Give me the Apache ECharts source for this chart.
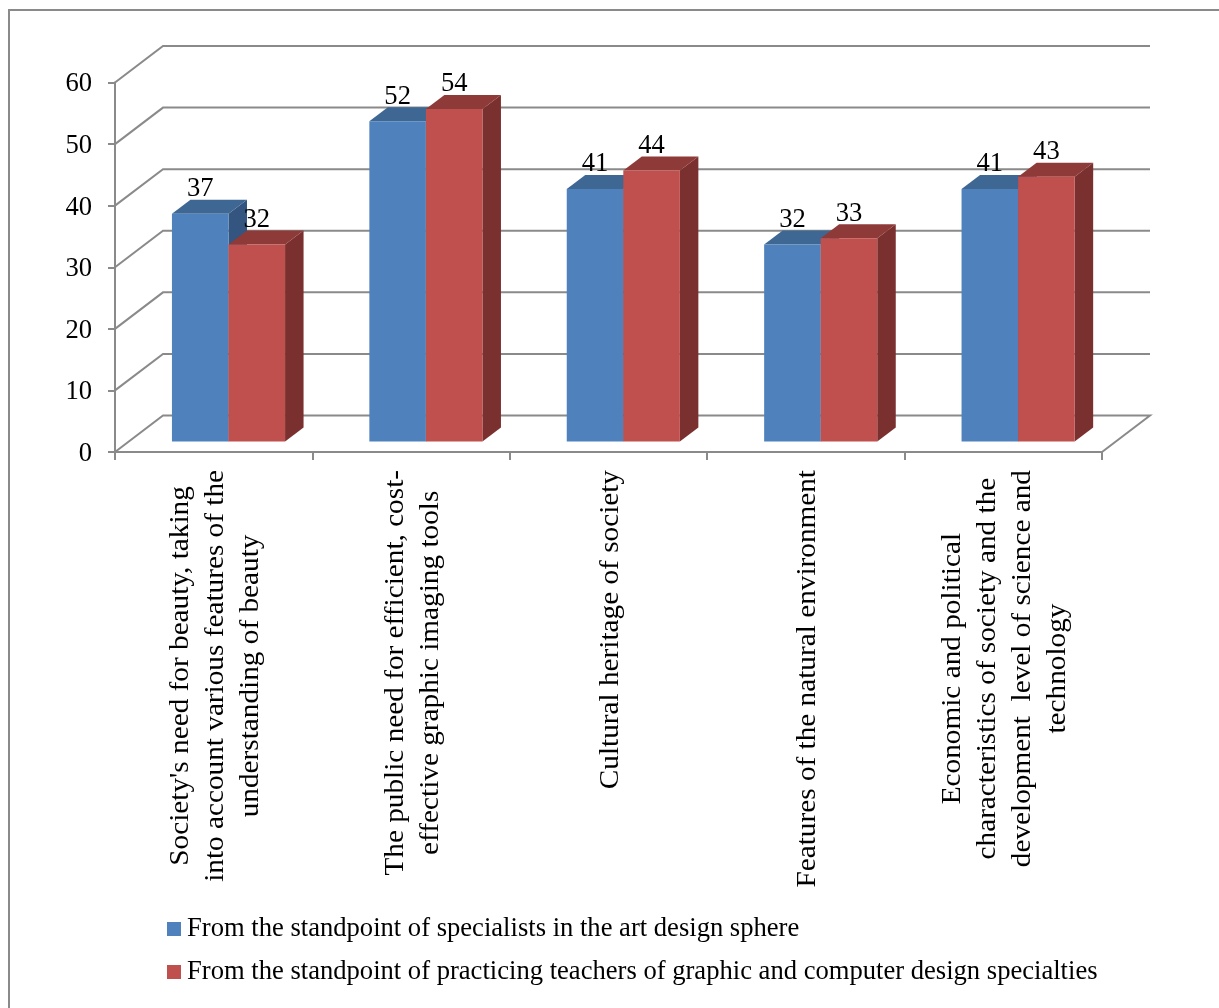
<!DOCTYPE html>
<html>
<head>
<meta charset="utf-8">
<style>html,body{margin:0;padding:0;background:#fff}#c{width:1219px;height:1008px}</style>
<script src="https://cdn.jsdelivr.net/npm/echarts@6/dist/echarts.min.js"></script>
</head>
<body>
<div id="c"></div>
<script>
const categories = [
  "Society's need for beauty, taking\ninto account various features of the\nunderstanding of beauty",
  "The public need for efficient, cost-\neffective graphic imaging tools",
  "Cultural heritage of society",
  "Features of the natural environment",
  "Economic and political\ncharacteristics of society and the\ndevelopment  level of science and\ntechnology"
];
const seriesNames = [
  "From the standpoint of specialists in the art design sphere",
  "From the standpoint of practicing teachers of graphic and computer design specialties"
];
const specialists = [37, 52, 41, 32, 41];
const teachers = [32, 54, 44, 33, 43];
const yTicks = [0, 10, 20, 30, 40, 50, 60];

const FAMILY = '"Liberation Serif", "Times New Roman", serif';
const SIZE = 26.6;
const FONT = SIZE + 'px ' + FAMILY;
const STRETCH = 1.1;                      // the vertical text is drawn longer than it is thick
const GRAY = '#8a8a8a';
const WALL_DX = 48, WALL_DY = -36.5;      // depth of the back wall
const BAR_DX = 18.5, BAR_DY = -14;        // depth of a bar
const FLOOR_LIFT = -10.5;                 // bars stand in the middle of the floor

const ctx = document.createElement('canvas').getContext('2d');
ctx.font = FONT;
function blockLength(text) {
  return STRETCH * Math.max.apply(null, text.split('\n').map(function (l) { return ctx.measureText(l).width; }));
}

function barSeries(name, values, color, topColor, sideColor, slot) {
  return {
    type: 'custom', name: name, z: 3 + slot, clip: false,
    itemStyle: { color: color },
    data: values.map(function (v, i) { return [i, v]; }),
    encode: { x: 0, y: 1 },
    renderItem: function (params, api) {
      const band = api.size([1, 0])[0];
      const w = band * 0.2865;
      const c = api.coord([api.value(0), api.value(1)]);
      const b = api.coord([api.value(0), 0]);
      const x0 = c[0] + band * 0.075 - w + slot * w;
      const x1 = x0 + w;
      const yt = c[1] + FLOOR_LIFT, yb = b[1] + FLOOR_LIFT;
      const poly = function (pts, fill) {
        return { type: 'polygon', shape: { points: pts }, style: { fill: fill, stroke: null } };
      };
      return {
        type: 'group',
        children: [
          poly([[x1, yt], [x1 + BAR_DX, yt + BAR_DY], [x1 + BAR_DX, yb + BAR_DY], [x1, yb]], sideColor),
          poly([[x0, yt], [x0 + BAR_DX, yt + BAR_DY], [x1 + BAR_DX, yt + BAR_DY], [x1, yt]], topColor),
          poly([[x0, yt], [x1, yt], [x1, yb], [x0, yb]], color),
          {
            type: 'text', z2: 50,
            x: (x0 + x1) / 2, y: yt - 24.5,
            style: { text: String(api.value(1)), font: FONT, fill: '#000', align: 'center', verticalAlign: 'middle' }
          }
        ]
      };
    }
  };
}

const option = {
  animation: false,
  backgroundColor: '#fff',
  textStyle: { fontFamily: FAMILY },
  grid: { left: 115, right: 117, top: 82.5, bottom: 556, containLabel: false },
  xAxis: {
    type: 'category', data: categories,
    axisLine: { show: true, lineStyle: { color: GRAY, width: 2 } },
    axisTick: { show: true, interval: 0, length: 8, lineStyle: { color: GRAY, width: 2 } },
    axisLabel: { show: false, interval: 0 },
    splitLine: { show: false }
  },
  yAxis: {
    type: 'value', min: 0, max: 60, interval: 10,
    axisLine: { show: true, lineStyle: { color: GRAY, width: 2 } },
    axisTick: { show: true, length: 7, lineStyle: { color: GRAY, width: 2 } },
    axisLabel: {
      margin: 23, fontSize: SIZE, color: '#000', fontFamily: FAMILY,
      verticalAlign: 'top', lineHeight: 26, padding: [-11, 0, 0, 0]
    },
    splitLine: { show: false }
  },
  legend: {
    orient: 'vertical', left: 162, top: 910.5, itemWidth: 14, itemHeight: 14, itemGap: 16,
    icon: 'rect',
    data: seriesNames,
    selectedMode: false,
    textStyle: { fontSize: SIZE, lineHeight: 24, color: '#000', fontFamily: FAMILY, padding: [2, 0, 0, 1] }
  },
  graphic: [{
    type: 'polyline', silent: true, z: 0,
    shape: { points: [[9, 1008], [9, 10], [1219, 10]] },
    style: { stroke: GRAY, lineWidth: 2, fill: null }
  }],
  series: [
    {
      type: 'custom', name: 'walls', z: 1, clip: false, silent: true,
      data: yTicks.map(function (v) { return [0, v]; }),
      encode: { y: 1 },
      renderItem: function (params, api) {
        const cs = params.coordSys;
        const v = api.value(1);
        const y = api.coord([0, v])[1];
        const left = cs.x, right = cs.x + cs.width;
        const pts = [[left, y], [left + WALL_DX, y + WALL_DY], [right + WALL_DX, y + WALL_DY]];
        if (v === 0) pts.push([right, y]);
        return { type: 'polyline', shape: { points: pts }, style: { stroke: GRAY, lineWidth: 2, fill: null } };
      }
    },
    barSeries(seriesNames[0], specialists, '#4F81BD', '#3F6793', '#33557F', 0),
    barSeries(seriesNames[1], teachers, '#C0504D', '#8E3A38', '#7A302E', 1),
    {
      type: 'custom', name: 'category labels', z: 6, clip: false, silent: true,
      data: categories.map(function (c, i) { return [i, 0]; }),
      encode: { x: 0, y: 1 },
      renderItem: function (params, api) {
        const i = api.value(0);
        const p = api.coord([i, 0]);
        return {
          type: 'text',
          x: p[0] + 2.5,
          y: p[1] + 18 + blockLength(categories[i]) / 2,
          rotation: Math.PI / 2,
          scaleX: STRETCH,
          style: {
            text: categories[i], font: FONT, fill: '#000',
            align: 'center', verticalAlign: 'middle', lineHeight: 35
          }
        };
      }
    }
  ]
};
echarts.init(document.getElementById('c'), null, { renderer: 'canvas' }).setOption(option);
</script>
</body>
</html>
